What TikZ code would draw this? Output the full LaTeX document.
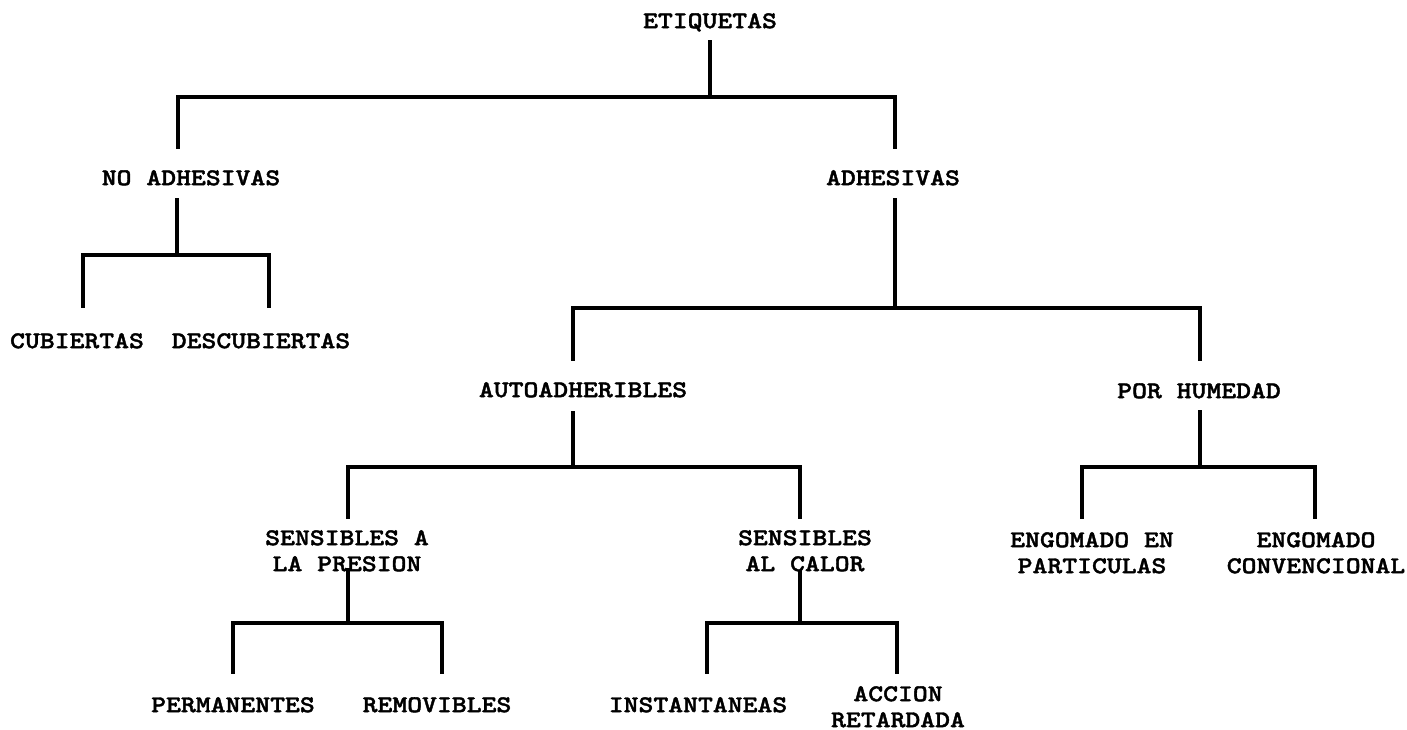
\documentclass[tikz,border=0pt]{standalone}
\usepackage{fontspec}
\newfontfamily\tw{lmmonolt10-bold.otf}[FakeStretch=1.18,FakeBold=1.6]
\begin{document}
\begin{tikzpicture}[x=1pt,y=-1pt,
  lbl/.style={font=\tw\fontsize{24}{26}\selectfont, inner sep=0pt, anchor=north, align=center},
  conn/.style={line width=3.2pt, line cap=rect, line join=miter, black}]
\useasboundingbox (0,0) rectangle (1407,730);
% nodes
\node[lbl] (etiq) at (710,13) {ETIQUETAS};
\node[lbl] (noadh) at (191,170) {NO ADHESIVAS};
\node[lbl] (adh) at (893,170) {ADHESIVAS};
\node[lbl] (cub) at (77,333) {CUBIERTAS};
\node[lbl] (desc) at (261,333) {DESCUBIERTAS};
\node[lbl] (auto) at (583,382) {AUTOADHERIBLES};
\node[lbl] (hum) at (1199,383) {POR HUMEDAD};
\node[lbl] (pres) at (347,530) {SENSIBLES A\\LA PRESION};
\node[lbl] (calor) at (805,530) {SENSIBLES\\AL CALOR};
\node[lbl] (part) at (1092,532) {ENGOMADO EN\\PARTICULAS};
\node[lbl] (conv) at (1316,532) {ENGOMADO\\CONVENCIONAL};
\node[lbl] (perm) at (233,697) {PERMANENTES};
\node[lbl] (rem) at (437,697) {REMOVIBLES};
\node[lbl] (inst) at (698,697) {INSTANTANEAS};
\node[lbl] (acc) at (898,686) {ACCION\\RETARDADA};
% connector points
\coordinate (etiq-o) at (710,42);  \coordinate (j0) at (710,97);
\coordinate (noadh-i) at (178,147); \coordinate (adh-i) at (895,147);
\coordinate (noadh-o) at (177,200); \coordinate (j1) at (177,255);
\coordinate (cub-i) at (83,306);    \coordinate (desc-i) at (269,306);
\coordinate (adh-o) at (895,200);   \coordinate (j2) at (895,308);
\coordinate (auto-i) at (573,359);  \coordinate (hum-i) at (1200,359);
\coordinate (auto-o) at (573,413);  \coordinate (j3) at (573,467);
\coordinate (pres-i) at (348,517);  \coordinate (calor-i) at (800,517);
\coordinate (hum-o) at (1200,412);  \coordinate (j4) at (1200,467);
\coordinate (part-i) at (1082,517); \coordinate (conv-i) at (1315,517);
\coordinate (pres-o) at (348,570);  \coordinate (j5) at (348,623);
\coordinate (perm-i) at (233,672);  \coordinate (rem-i) at (442,672);
\coordinate (calor-o) at (800,572); \coordinate (j6) at (800,623);
\coordinate (inst-i) at (707,672);  \coordinate (acc-i) at (897,672);
% connectors
\draw[conn] (etiq-o) -- (j0);
\draw[conn] (noadh-i) |- (j0) -| (adh-i);
\draw[conn] (noadh-o) -- (j1);
\draw[conn] (cub-i) |- (j1) -| (desc-i);
\draw[conn] (adh-o) -- (j2);
\draw[conn] (auto-i) |- (j2) -| (hum-i);
\draw[conn] (auto-o) -- (j3);
\draw[conn] (pres-i) |- (j3) -| (calor-i);
\draw[conn] (hum-o) -- (j4);
\draw[conn] (part-i) |- (j4) -| (conv-i);
\draw[conn] (pres-o) -- (j5);
\draw[conn] (perm-i) |- (j5) -| (rem-i);
\draw[conn] (calor-o) -- (j6);
\draw[conn] (inst-i) |- (j6) -| (acc-i);
\end{tikzpicture}
\end{document}
